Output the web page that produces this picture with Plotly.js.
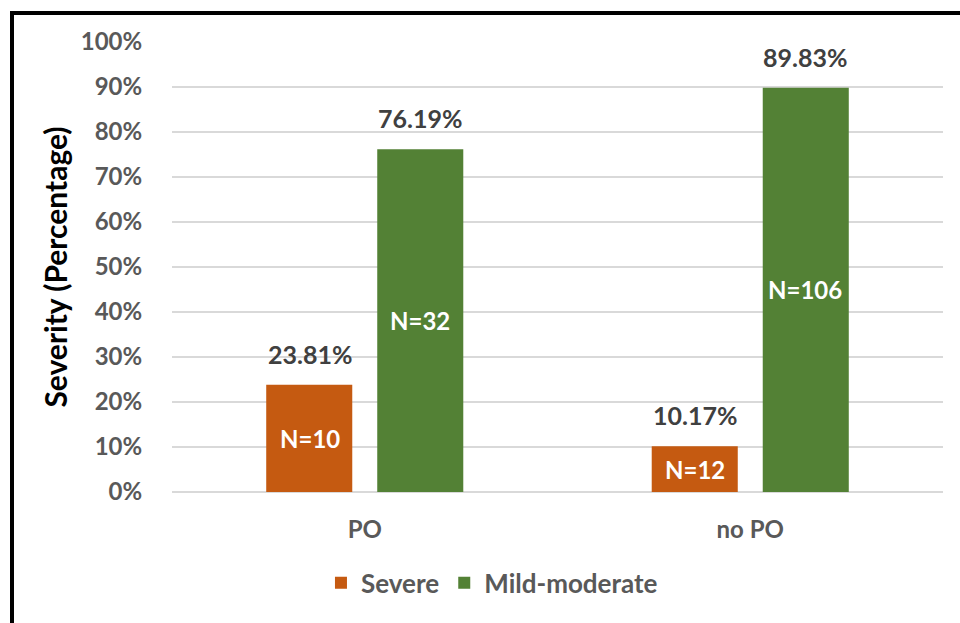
<!DOCTYPE html>
<html>
<head>
<meta charset="utf-8">
<script src="https://cdn.plot.ly/plotly-3.0.1.min.js"></script>
<style>
html,body{margin:0;padding:0;background:#fff;}
#chart{width:960px;height:623px;}
</style>
</head>
<body>
<div id="chart"></div>
<script>
const categories = ["PO", "no PO"];
const seriesNames = ["Severe", "Mild-moderate"];
const severeValues = [23.81, 10.17];
const mildValues = [76.19, 89.83];
const severeCounts = [10, 12];
const mildCounts = [32, 106];
const yTicks = [0, 10, 20, 30, 40, 50, 60, 70, 80, 90, 100];

const FONT = "Lato, 'Open Sans', sans-serif";
const colors = ["#C55A11", "#538135"];
const allValues = [severeValues, mildValues];
const allCounts = [severeCounts, mildCounts];

const traces = allValues.map((vals, i) => ({
  type: "bar",
  name: seriesNames[i],
  x: categories,
  y: vals,
  marker: {color: colors[i]},
  hoverinfo: "skip"
}));

// offsets of each bar within its group (in px) for annotations
const shifts = [-55, 55];
const annotations = [];
allValues.forEach((vals, i) => {
  vals.forEach((v, j) => {
    annotations.push({
      x: categories[j], y: v, xref: "x", yref: "y",
      text: v.toFixed(2) + "%", showarrow: false,
      xshift: shifts[i], yshift: 14, yanchor: "bottom",
      font: {family: FONT, size: 25, color: "#404040", weight: 700}
    });
    annotations.push({
      x: categories[j], y: v / 2, xref: "x", yref: "y",
      text: "N=" + allCounts[i][j], showarrow: false,
      xshift: shifts[i], yanchor: "middle",
      font: {family: FONT, size: 24, color: "#ffffff", weight: 700}
    });
  });
});

const layout = {
  width: 960, height: 623,
  margin: {l: 172, r: 17, t: 42, b: 131},
  paper_bgcolor: "#fff", plot_bgcolor: "#fff",
  barmode: "group",
  bargap: 0.424,
  bargroupgap: 0.225,
  showlegend: true,
  legend: {
    orientation: "h", x: 0.415, xanchor: "center", y: -0.202, yanchor: "middle",
    font: {family: FONT, size: 26, color: "#595959", weight: 700},
    itemwidth: 30, traceorder: "normal"
  },
  xaxis: {
    type: "category",
    showgrid: false, zeroline: false, showline: false,
    ticks: "outside", ticklen: 16, tickcolor: "rgba(0,0,0,0)",
    tickfont: {family: FONT, size: 24, color: "#595959", weight: 700}
  },
  yaxis: {
    range: [0, 100],
    tickvals: yTicks,
    ticktext: yTicks.map(t => t + "%"),
    showgrid: true, gridcolor: "#d9d9d9", gridwidth: 1.5,
    zeroline: true, zerolinecolor: "#d9d9d9", zerolinewidth: 1.5,
    showline: false,
    ticks: "outside", ticklen: 24, tickcolor: "rgba(0,0,0,0)",
    tickfont: {family: FONT, size: 24, color: "#595959", weight: 700},
    title: {text: "Severity (Percentage)", standoff: 4,
            font: {family: FONT, size: 30, color: "#000", weight: 700}}
  },
  annotations: annotations,
  shapes: [{
    type: "rect", xref: "paper", yref: "paper",
    x0: (12 - 172) / 771, x1: (975 - 172) / 771,
    y0: (492 - 640) / 450, y1: (492 - 13) / 450,
    line: {color: "#000", width: 4}, fillcolor: "rgba(0,0,0,0)", layer: "below"
  }]
};

Plotly.newPlot("chart", traces, layout, {displayModeBar: false, staticPlot: true});
</script>
</body>
</html>
